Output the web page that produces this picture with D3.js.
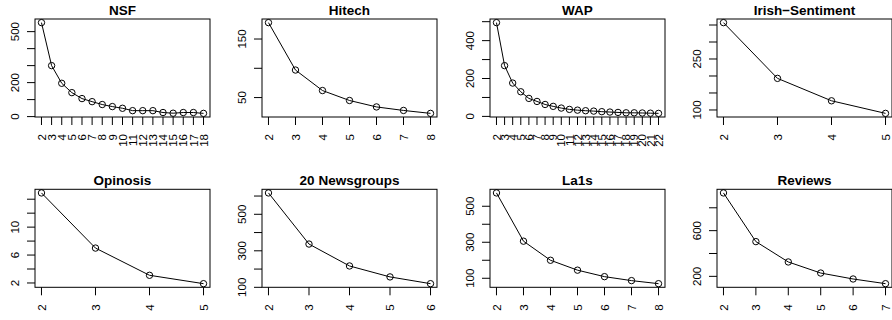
<!DOCTYPE html>
<html>
<head>
<meta charset="utf-8">
<script src="https://cdn.jsdelivr.net/npm/d3@7"></script>
<style>
  body { margin: 0; background: #fff; }
  text { font-family: "Liberation Sans", Arial, Helvetica, sans-serif; fill: #000; }
</style>
</head>
<body>
<script>
// values, one panel per dataset
var titles = ["NSF", "Hitech", "WAP", "Irish\u2212Sentiment", "Opinosis", "20 Newsgroups", "La1s", "Reviews"];

var nsfK = [2, 3, 4, 5, 6, 7, 8, 9, 10, 11, 12, 13, 14, 15, 16, 17, 18];
var nsfValues = [553, 300, 196, 141, 106, 88, 71, 59, 49, 35, 35, 35, 24, 20, 24, 24, 19];

var hitechK = [2, 3, 4, 5, 6, 7, 8];
var hitechValues = [178, 97, 62, 45, 34, 28, 23];

var wapK = [2, 3, 4, 5, 6, 7, 8, 9, 10, 11, 12, 13, 14, 15, 16, 17, 18, 19, 20, 21, 22];
var wapValues = [495, 268, 176, 130, 95, 79, 63, 53, 44, 37, 33, 30, 28, 25, 23, 21, 19, 19, 18, 17, 16];

var irishK = [2, 3, 4, 5];
var irishValues = [357, 193, 127, 90];

var opinosisK = [2, 3, 4, 5];
var opinosisValues = [14.9, 7, 3.1, 1.9];

var newsK = [2, 3, 4, 5, 6];
var newsValues = [617, 337, 217, 157, 120];

var la1sK = [2, 3, 4, 5, 6, 7, 8];
var la1sValues = [574, 306, 200, 145, 109, 87, 70];

var reviewsK = [2, 3, 4, 5, 6, 7];
var reviewsValues = [930, 504, 326, 229, 177, 136];

// y ticks, and the subset R actually labelled
var yTicks = [
	[0, 100, 200, 300, 400, 500],
	[50, 100, 150],
	[0, 100, 200, 300, 400, 500],
	[100, 150, 200, 250, 300, 350],
	[2, 4, 6, 8, 10, 12, 14],
	[100, 200, 300, 400, 500, 600],
	[100, 200, 300, 400, 500],
	[200, 400, 600, 800]
];
var yLabels = [
	[0, 200, 500],
	[50, 150],
	[0, 200, 400],
	[100, 250],
	[2, 6, 10],
	[100, 300, 500],
	[100, 300, 500],
	[200, 600]
];

var allK = [nsfK, hitechK, wapK, irishK, opinosisK, newsK, la1sK, reviewsK];
var allValues = [nsfValues, hitechValues, wapValues, irishValues, opinosisValues, newsValues, la1sValues, reviewsValues];

var width = 892,
	height = 320,
	boxW = 175,
	boxH = 98;

var lefts = [35, 262, 490, 717];
var tops = [19, 189.3];

var svg = d3.select("body").append("svg")
	.attr("width", width)
	.attr("height", height);

// R style: 4% padding on both axes
function padded(arr) {
	var lo = d3.min(arr), hi = d3.max(arr), r = hi - lo;
	return [lo - 0.04 * r, hi + 0.04 * r];
}

function drawPanel(i) {
	var L = lefts[i % 4],
		T = tops[Math.floor(i / 4)],
		B = T + boxH;
	var ks = allK[i], vals = allValues[i];

	var x = d3.scaleLinear().domain(padded(ks)).range([L, L + boxW]);
	var y = d3.scaleLinear().domain(padded(vals)).range([B, T]);

	var g = svg.append("g");

	g.append("rect")
		.attr("x", L).attr("y", T)
		.attr("width", boxW).attr("height", boxH)
		.attr("fill", "none").attr("stroke", "#000").attr("stroke-width", 1);

	g.append("text")
		.attr("x", L + boxW / 2).attr("y", T - 4)
		.attr("text-anchor", "middle")
		.style("font-size", "13.5px").style("font-weight", "bold")
		.text(titles[i]);

	// x axis: ticks below, labels rotated
	g.selectAll("line.xt").data(ks).enter().append("line")
		.attr("x1", function(d) { return x(d); })
		.attr("x2", function(d) { return x(d); })
		.attr("y1", B).attr("y2", B + 8)
		.attr("stroke", "#000");
	g.selectAll("text.xl").data(ks).enter().append("text")
		.attr("transform", function(d) { return "translate(" + x(d) + "," + (B + 17) + ") rotate(-90)"; })
		.attr("text-anchor", "end")
		.attr("dy", "0.36em")
		.style("font-size", "11.5px")
		.text(function(d) { return d; });

	// y axis
	g.selectAll("line.yt").data(yTicks[i]).enter().append("line")
		.attr("x1", L - 8).attr("x2", L)
		.attr("y1", function(d) { return y(d); })
		.attr("y2", function(d) { return y(d); })
		.attr("stroke", "#000");
	g.selectAll("text.yl").data(yLabels[i]).enter().append("text")
		.attr("transform", function(d) { return "translate(" + (L - 16) + "," + y(d) + ") rotate(-90)"; })
		.attr("text-anchor", "middle")
		.style("font-size", "11.5px")
		.text(function(d) { return d; });

	var pts = ks.map(function(k, j) { return [k, vals[j]]; });

	g.append("path")
		.datum(pts)
		.attr("d", d3.line().x(function(d) { return x(d[0]); }).y(function(d) { return y(d[1]); }))
		.attr("fill", "none").attr("stroke", "#000").attr("stroke-width", 1);

	g.selectAll("circle").data(pts).enter().append("circle")
		.attr("cx", function(d) { return x(d[0]); })
		.attr("cy", function(d) { return y(d[1]); })
		.attr("r", 3.2)
		.attr("fill", "none").attr("stroke", "#000").attr("stroke-width", 1);
}

for (var i = 0; i < titles.length; i++) {
	drawPanel(i);
}
</script>
</body>
</html>
